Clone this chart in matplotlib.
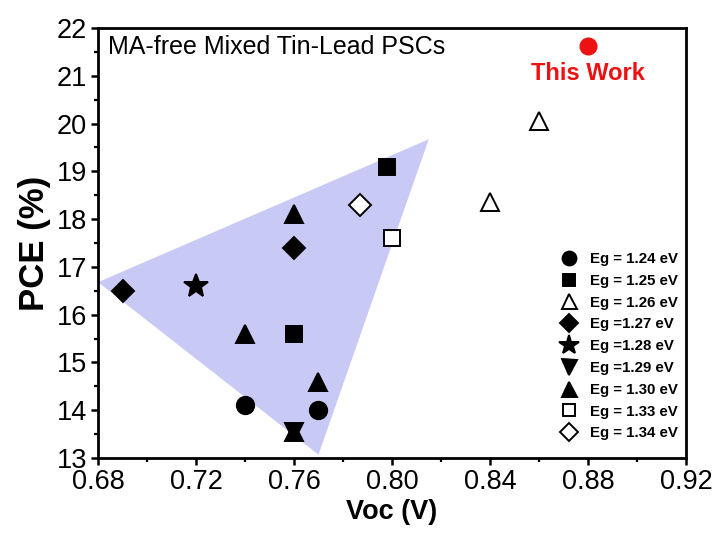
import numpy as np
import matplotlib.pyplot as plt
from matplotlib.patches import Polygon

plt.rcParams['font.family'] = ['Liberation Sans', 'DejaVu Sans']

# data: (label, marker, filled, voc list, pce list)
eg_labels = ['Eg = 1.24 eV', 'Eg = 1.25 eV', 'Eg = 1.26 eV', 'Eg =1.27 eV', 'Eg =1.28 eV',
             'Eg =1.29 eV', 'Eg = 1.30 eV', 'Eg = 1.33 eV', 'Eg = 1.34 eV']
markers = ['o', 's', '^', 'D', '*', 'v', '^', 's', 'D']
filled = [True, True, False, True, True, True, True, False, False]
voc = [[0.74, 0.77], [0.798, 0.76], [0.84, 0.86], [0.69, 0.76], [0.72],
       [0.76], [0.76, 0.74, 0.77, 0.76], [0.80], [0.787]]
pce = [[14.1, 14.0], [19.1, 15.6], [18.35, 20.05], [16.5, 17.4], [16.6],
       [13.55], [18.1, 15.6, 14.6, 13.55], [17.6], [18.3]]
sizes = [12.5, 11.5, 13.5, 11.5, 18, 13.5, 13.5, 11, 11.5]

this_work = (0.88, 21.62)
shade = [(0.68, 16.68), (0.815, 19.67), (0.77, 13.07)]

fig = plt.figure(figsize=(7.17, 5.33), dpi=100)
ax = fig.add_axes([0.1367, 0.1407, 0.82, 0.8068])

ax.add_patch(Polygon(shade, closed=True, facecolor='#c9c9f5', edgecolor='none', zorder=1))

for lab, m, f, xs, ys, ms in zip(eg_labels, markers, filled, voc, pce, sizes):
    ax.plot(xs, ys, linestyle='none', marker=m, markersize=ms,
            markerfacecolor='black' if f else 'white', markeredgecolor='black',
            markeredgewidth=1.4, label=lab, zorder=3)

ax.plot(*this_work, 'o', color='#ee1111', markersize=12, zorder=3)
ax.text(0.88, 21.05, 'This Work', color='#ee1111', fontsize=17, fontweight='bold',
        ha='center', va='center')
ax.text(0.6842, 21.6, 'MA-free Mixed Tin-Lead PSCs', fontsize=18, ha='left', va='center')

ax.set_xlim(0.68, 0.92)
ax.set_ylim(13, 22)
ax.set_xticks(np.arange(0.68, 0.921, 0.04))
ax.set_xticks(np.arange(0.70, 0.92, 0.04), minor=True)
ax.set_yticks(np.arange(13, 23, 1))
ax.set_yticks(np.arange(13.5, 22, 1), minor=True)
ax.xaxis.set_major_formatter(plt.FormatStrFormatter('%.2f'))
ax.tick_params(which='major', direction='out', length=5, width=1.8, labelsize=19.5, pad=3)
ax.tick_params(which='minor', direction='out', length=3, width=1.6)
for s in ax.spines.values():
    s.set_linewidth(2)

ax.set_xlabel('Voc (V)', fontsize=19.5, fontweight='bold', labelpad=3)
ax.set_ylabel('PCE (%)', fontsize=25, fontweight='bold', labelpad=4)

leg = ax.legend(loc='upper left', bbox_to_anchor=(0.789, 0.479), frameon=False,
                prop={'size': 10.8, 'weight': 'bold'}, borderpad=0,
                handletextpad=0.9, labelspacing=0.52, markerscale=0.8,
                borderaxespad=0, handlelength=1.0)

fig.savefig('out.png', dpi=100)
